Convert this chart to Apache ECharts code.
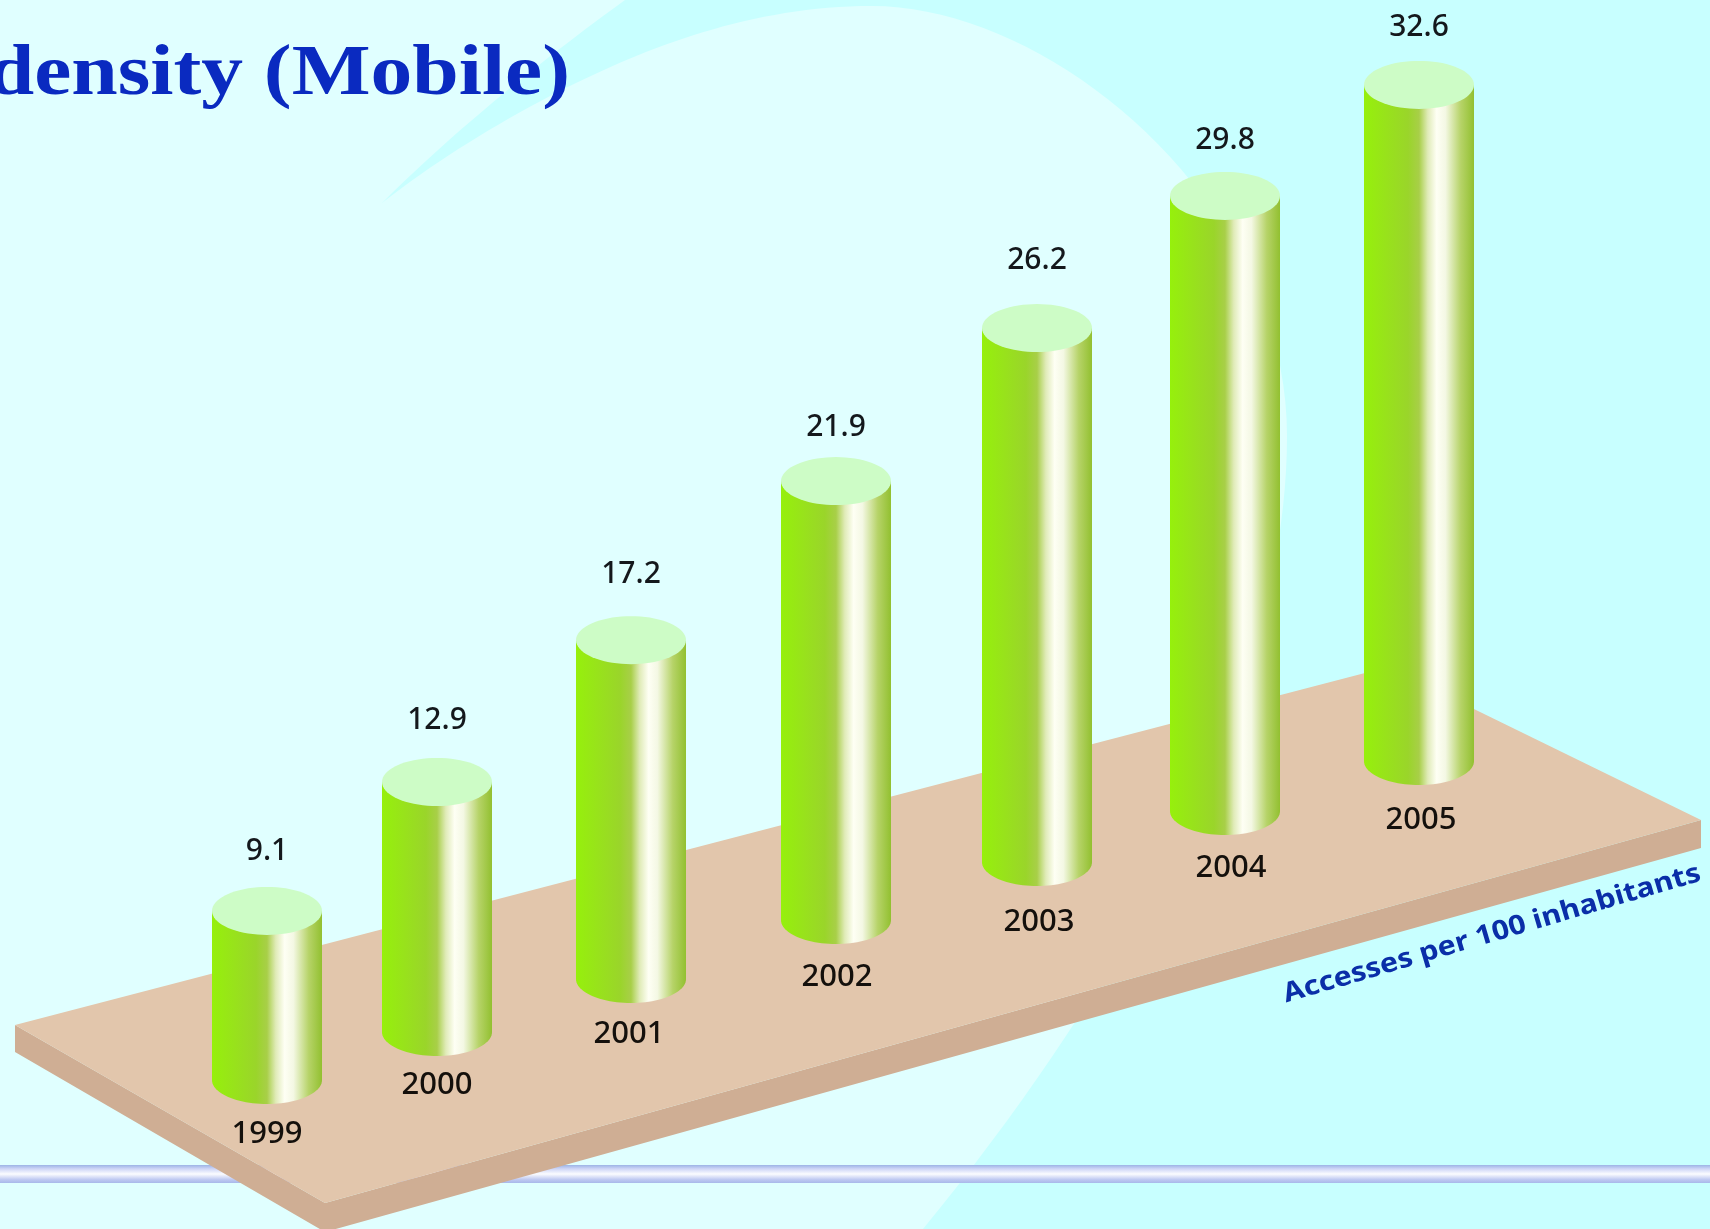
<!DOCTYPE html>
<html>
<head>
<meta charset="utf-8">
<style>html,body{margin:0;padding:0;background:#c8ffff}#c{width:1710px;height:1229px}</style>
<script src="https://cdn.jsdelivr.net/npm/echarts@6/dist/echarts.min.js"></script>
</head>
<body>
<div id="c"></div>
<script>
// Chart data
const years = ['1999','2000','2001','2002','2003','2004','2005'];
const accesses = [9.1,12.9,17.2,21.9,26.2,29.8,32.6];
// Where each cylinder stands on the slanted platform (x axis units, y axis units)
const alongPlatform = [267,437,631,836,1037,1225,1419];
const platformLift = [7.45,9.85,12.5,15.45,18.35,20.9,23.4];
// The drawing's perspective stretches later cylinders a little
const perspective = [0.929,0.969,0.985,1.002,1.019,1.032,1.037];

// Layout only: the labels were placed by hand in the original
const valueLabelGap = [59,62,66,54,68,55,57];
const yearLabelGap = [54,53,55,57,60,57,59];
const yearLabelShift = [0,0,-2,1,2,6,2];

const Y_PER_PIXEL = 1/20;
const chart = echarts.init(document.getElementById('c'), null, {renderer:'canvas'});

const sideGradient = {type:'linear',x:0,y:0,x2:1,y2:0,colorStops:[
  {offset:0,color:'#96f00c'},{offset:.4,color:'#9ad52a'},{offset:.5,color:'#a8cf48'},
  {offset:.58,color:'#e0ebb8'},{offset:.66,color:'#fefff4'},{offset:.74,color:'#f4f8e4'},
  {offset:.88,color:'#b6d368'},{offset:1,color:'#92c030'}]};

function arc(cx,cy,rx,ry,from,to,n){
  const out=[];
  for(let k=0;k<=n;k++){const a=from+(to-from)*k/n;out.push([cx+rx*Math.cos(a),cy+ry*Math.sin(a)]);}
  return out;
}
function curve(p0,p1,p2,p3,n){
  const out=[];
  for(let k=1;k<=n;k++){
    const t=k/n,u=1-t;
    out.push([u*u*u*p0[0]+3*u*u*t*p1[0]+3*u*t*t*p2[0]+t*t*t*p3[0],
              u*u*u*p0[1]+3*u*u*t*p1[1]+3*u*t*t*p2[1]+t*t*t*p3[1]]);
  }
  return out;
}
const lightArea = [[0,0],[625,0]]
  .concat(curve([625,0],[570,40],[470,115],[382,203],24))
  .concat(curve([382,203],[430,165],[500,120],[576,83],20))
  .concat(curve([576,83],[660,42],[760,6],[872,6],30))
  .concat(curve([872,6],[1050,6],[1287,200],[1287,436],40))
  .concat(curve([1287,436],[1287,660],[1160,940],[923,1229],40))
  .concat([[0,1229]]);

function renderCylinder(params, api){
  const i = params.dataIndex;
  const pos = api.value(0), val = api.value(1), lift = api.value(2), stretch = api.value(3);
  const base = api.coord([pos, lift]);
  const top = api.coord([pos, lift + val*stretch]);
  const rx = 55, ry = 24;
  const pts = [[base[0]-rx, top[1]]].concat(arc(base[0],base[1],rx,ry,Math.PI,0,48)).concat([[base[0]+rx, top[1]]]);
  const textFont = '"Noto Sans", sans-serif';
  return {type:'group',children:[
    {type:'polygon',shape:{points:pts},style:{fill:sideGradient}},
    {type:'polygon',shape:{points:arc(top[0],top[1],rx,ry,0,Math.PI*2,72)},style:{fill:'#cdfcc6'}},
    {type:'text',style:{x:top[0],y:top[1]-valueLabelGap[i],text:val.toFixed(1),fill:'#14181c',
      font:'500 30px '+textFont,textAlign:'center',textVerticalAlign:'middle'}},
    {type:'text',style:{x:base[0]+yearLabelShift[i],y:base[1]+yearLabelGap[i],text:years[i],fill:'#14100c',
      font:'500 31px '+textFont,textAlign:'center',textVerticalAlign:'middle'}}
  ]};
}

chart.setOption({
  animation:false,
  backgroundColor:'#c8ffff',
  grid:{left:0,right:0,top:0,bottom:0},
  xAxis:{type:'value',min:0,max:1710,show:false},
  yAxis:{type:'value',min:0,max:1229*Y_PER_PIXEL,show:false},
  graphic:[
    {type:'polygon',z:-20,silent:true,shape:{points:lightArea},style:{fill:'#e0ffff'}},
    {type:'rect',z:-15,silent:true,shape:{x:0,y:1165,width:1710,height:18},
     style:{fill:{type:'linear',x:0,y:0,x2:0,y2:1,colorStops:[
       {offset:0,color:'#9cb4e6'},{offset:.2,color:'#ccd4f6'},{offset:.5,color:'#fbfcff'},
       {offset:.8,color:'#c0caf2'},{offset:1,color:'#a8b8ea'}]}}},
    {type:'polygon',z:-10,silent:true,
     shape:{points:[[15,1025],[15,1052],[325,1232],[1701,848],[1701,820],[325,1203]]},
     style:{fill:'#cfae94'}},
    {type:'polygon',z:-9,silent:true,
     shape:{points:[[15,1025],[1388,667],[1701,820],[325,1203]]},
     style:{fill:'#e2c6ac'}},
    {type:'text',z:5,silent:true,x:570,y:75,scaleX:1.16,
     style:{text:'density (Mobile)',font:'bold 72px "Liberation Serif", serif',fill:'#0a2ac0',
            textAlign:'right',textVerticalAlign:'middle'}},
    {type:'text',z:5,silent:true,x:1492,y:934,scaleX:1.12,rotation:16.4*Math.PI/180,
     style:{text:'Accesses per 100 inhabitants',font:'bold 27px "Noto Sans", sans-serif',fill:'#0a2ea8',
            textAlign:'center',textVerticalAlign:'middle'}}
  ],
  series:[{
    type:'custom',clip:false,
    renderItem:renderCylinder,
    encode:{x:0,y:1},
    data:accesses.map((v,i)=>[alongPlatform[i],v,platformLift[i],perspective[i]])
  }]
});
</script>
</body>
</html>
